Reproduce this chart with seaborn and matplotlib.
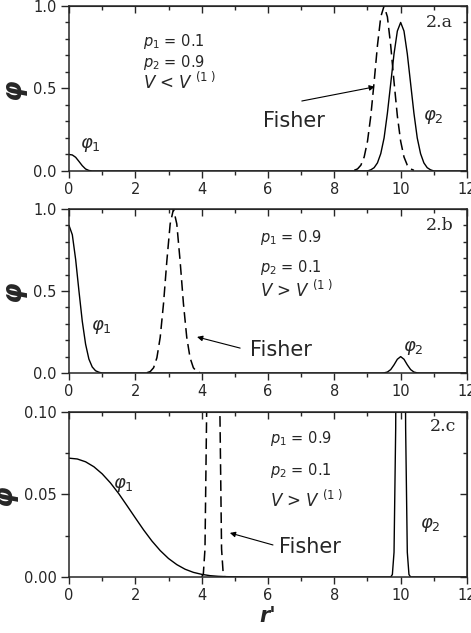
import matplotlib
matplotlib.use("Agg")
import matplotlib.pyplot as plt
import numpy as np
import seaborn as sns
from matplotlib.ticker import MultipleLocator, FormatStrFormatter

# panel 2.a : p1 = 0.1, p2 = 0.9
r_a = [0.0, 0.1, 0.2, 0.3, 0.4, 0.5, 0.6, 0.7,
       9.0, 9.1, 9.2, 9.3, 9.4, 9.5, 9.6, 9.7, 9.8, 9.9, 10.0,
       10.1, 10.2, 10.3, 10.4, 10.5, 10.6, 10.7, 10.8, 10.9, 11.0, 12.0]
phi_a = [0.100, 0.097, 0.083, 0.058, 0.032, 0.012, 0.003, 0.0,
         0.0, 0.007, 0.02, 0.049, 0.105, 0.20, 0.35, 0.53, 0.71, 0.848, 0.90,
         0.848, 0.71, 0.53, 0.35, 0.20, 0.105, 0.049, 0.02, 0.007, 0.0, 0.0]
r_fisher_a = [8.6, 8.7, 8.8, 8.9, 9.0, 9.1, 9.2, 9.3, 9.4, 9.5,
              9.6, 9.7, 9.8, 9.9, 10.0, 10.1, 10.2, 10.3, 10.4]
fisher_a = [0.004, 0.0125, 0.035, 0.085, 0.18, 0.334, 0.54, 0.76, 0.934, 1.0,
            0.934, 0.76, 0.54, 0.334, 0.18, 0.085, 0.035, 0.0125, 0.004]

# panel 2.b : p1 = 0.9, p2 = 0.1
r_b = [0.0, 0.1, 0.2, 0.3, 0.4, 0.5, 0.6, 0.7, 0.8, 0.9, 1.0,
       9.4, 9.5, 9.6, 9.7, 9.8, 9.9, 10.0, 10.1, 10.2, 10.3, 10.4, 10.5, 10.6, 12.0]
phi_b = [0.9, 0.843, 0.693, 0.50, 0.316, 0.176, 0.085, 0.037, 0.014, 0.005, 0.0,
         0.0, 0.001, 0.006, 0.021, 0.05, 0.084, 0.1, 0.084, 0.05, 0.021, 0.006, 0.001, 0.0, 0.0]
r_fisher_b = [2.35, 2.45, 2.55, 2.65, 2.75, 2.85, 2.95, 3.05, 3.15,
              3.25, 3.35, 3.45, 3.55, 3.65, 3.75, 3.85, 3.95]
fisher_b = [0.002, 0.009, 0.032, 0.093, 0.218, 0.424, 0.683, 0.909, 1.0,
            0.909, 0.683, 0.424, 0.218, 0.093, 0.032, 0.009, 0.002]

# panel 2.c : p1 = 0.9, p2 = 0.1 (zoomed)
r_c = [0.0, 0.25, 0.5, 0.75, 1.0, 1.25, 1.5, 1.75, 2.0, 2.25, 2.5, 2.75, 3.0,
       3.25, 3.5, 3.75, 4.0, 4.25, 4.5, 4.75, 5.0, 5.5,
       9.7, 9.75, 9.8, 9.85, 9.9, 9.95, 10.0, 10.05, 10.1, 10.15, 10.2, 10.25, 10.3, 12.0]
phi_c = [0.0720, 0.0715, 0.0698, 0.0668, 0.0625, 0.0570, 0.0505, 0.0432, 0.0358,
         0.0285, 0.0218, 0.0160, 0.0112, 0.0075, 0.0047, 0.0028, 0.0016, 0.0008,
         0.0004, 0.0002, 0.0001, 0.0,
         0.0, 0.0015, 0.015, 0.09, 0.32, 0.70, 0.9, 0.70, 0.32, 0.09, 0.015, 0.0015, 0.0, 0.0]
r_fisher_c = [4.0, 4.05, 4.1, 4.15, 4.2, 4.25, 4.3, 4.35, 4.4, 4.45, 4.5, 4.55, 4.6, 4.65, 4.7]
fisher_c = [0.0001, 0.0017, 0.017, 0.10, 0.36, 0.775, 0.95, 1.0, 0.95, 0.775, 0.36, 0.10, 0.017, 0.0017, 0.0001]

sns.set_style("ticks")
plt.rcParams["font.family"] = ["DejaVu Sans"]
plt.rcParams["mathtext.fontset"] = "dejavusans"

fig = plt.figure(figsize=(4.71, 6.33), dpi=100)
left, width = 0.1465, 0.845
ax_a = fig.add_axes([left, 0.7299, width, 0.2607])
ax_b = fig.add_axes([left, 0.4107, width, 0.2591])
ax_c = fig.add_axes([left, 0.0885, width, 0.2607])

panels = [
    (ax_a, r_a, phi_a, r_fisher_a, fisher_a, 1.0, 0.5, 0.1, "%.1f"),
    (ax_b, r_b, phi_b, r_fisher_b, fisher_b, 1.0, 0.5, 0.1, "%.1f"),
    (ax_c, r_c, phi_c, r_fisher_c, fisher_c, 0.1, 0.05, 0.025, "%.2f"),
]

for ax, r, phi, rf, fish, ytop, ymaj, ymin, fmt in panels:
    sns.lineplot(x=r, y=phi, color="black", linewidth=1.0, ax=ax, sort=False)
    sns.lineplot(x=rf, y=fish, color="black", linewidth=1.1, ax=ax, sort=False,
                 linestyle=(0, (7, 3.5)))
    ax.set_xlim(0, 12)
    ax.set_ylim(0, ytop)
    for sp in ax.spines.values():
        sp.set_visible(True)
        sp.set_linewidth(1.1)
    ax.xaxis.set_major_locator(MultipleLocator(2))
    ax.xaxis.set_minor_locator(MultipleLocator(1))
    ax.yaxis.set_major_locator(MultipleLocator(ymaj))
    ax.yaxis.set_minor_locator(MultipleLocator(ymin))
    ax.yaxis.set_major_formatter(FormatStrFormatter(fmt))
    ax.tick_params(which="major", direction="out", length=5, width=1.0,
                   labelsize=10.5, pad=3)
    ax.tick_params(which="minor", direction="out", length=3, width=1.0)
    ax.tick_params(axis="y", which="major", length=6)
    # mirrored inward ticks on top and right
    top = ax.secondary_xaxis("top")
    top.xaxis.set_major_locator(MultipleLocator(2))
    top.xaxis.set_minor_locator(MultipleLocator(1))
    top.tick_params(which="both", direction="in", labeltop=False, width=1.0)
    top.tick_params(which="major", length=5)
    top.tick_params(which="minor", length=3)
    right = ax.secondary_yaxis("right")
    right.yaxis.set_major_locator(MultipleLocator(ymaj))
    right.yaxis.set_minor_locator(MultipleLocator(ymin))
    right.tick_params(which="both", direction="in", labelright=False, width=1.0)
    right.tick_params(which="major", length=5)
    right.tick_params(which="minor", length=3)
    ax.set_xlabel("")
    ax.set_ylabel("φ", fontsize=19, fontweight="bold", fontstyle="italic", labelpad=5)

ax_c.set_xlabel("r'", fontsize=15, fontweight="bold", fontstyle="italic", labelpad=2)

par_fs = 10.5
v_fs = 12
phi_fs = 13
fisher_fs = 15
tag_font = dict(family="DejaVu Serif", fontsize=12.5, ha="center", va="center")
arrow = dict(arrowstyle="-|>", color="black", lw=0.8, mutation_scale=8, shrinkA=0, shrinkB=0)

# 2.a
ax_a.text(2.23, 0.76, r"$p_1$ = 0.1", fontsize=par_fs)
ax_a.text(2.23, 0.63, r"$p_2$ = 0.9", fontsize=par_fs)
ax_a.text(2.23, 0.50, r"$V$ < $V^{\ (1\ )}$", fontsize=v_fs)
ax_a.text(5.85, 0.267, "Fisher", fontsize=fisher_fs)
ax_a.annotate("", xy=(9.22, 0.51), xytext=(7.02, 0.424), arrowprops=arrow)
ax_a.text(0.63, 0.16, r"$\varphi_1$", fontsize=phi_fs, ha="center", va="center")
ax_a.text(10.97, 0.33, r"$\varphi_2$", fontsize=phi_fs, ha="center", va="center")
ax_a.text(11.18, 0.90, "2.a", **tag_font)

# 2.b
ax_b.text(5.76, 0.80, r"$p_1$ = 0.9", fontsize=par_fs)
ax_b.text(5.76, 0.616, r"$p_2$ = 0.1", fontsize=par_fs)
ax_b.text(5.76, 0.463, r"$V$ > $V^{\ (1\ )}$", fontsize=v_fs)
ax_b.text(5.46, 0.104, "Fisher", fontsize=fisher_fs)
ax_b.annotate("", xy=(3.86, 0.22), xytext=(5.16, 0.152), arrowprops=arrow)
ax_b.text(0.99, 0.28, r"$\varphi_1$", fontsize=phi_fs, ha="center", va="center")
ax_b.text(10.38, 0.15, r"$\varphi_2$", fontsize=phi_fs, ha="center", va="center")
ax_b.text(11.18, 0.90, "2.b", **tag_font)

# 2.c
ax_c.text(6.06, 0.0812, r"$p_1$ = 0.9", fontsize=par_fs)
ax_c.text(6.06, 0.0618, r"$p_2$ = 0.1", fontsize=par_fs)
ax_c.text(6.06, 0.0424, r"$V$ > $V^{\ (1\ )}$", fontsize=v_fs)
ax_c.text(6.33, 0.0145, "Fisher", fontsize=fisher_fs)
ax_c.annotate("", xy=(4.85, 0.0267), xytext=(6.15, 0.0194), arrowprops=arrow)
ax_c.text(1.63, 0.0558, r"$\varphi_1$", fontsize=phi_fs, ha="center", va="center")
ax_c.text(10.88, 0.0315, r"$\varphi_2$", fontsize=phi_fs, ha="center", va="center")
ax_c.text(11.28, 0.091, "2.c", **tag_font)

fig.savefig("out.png", dpi=100)
plt.close(fig)
